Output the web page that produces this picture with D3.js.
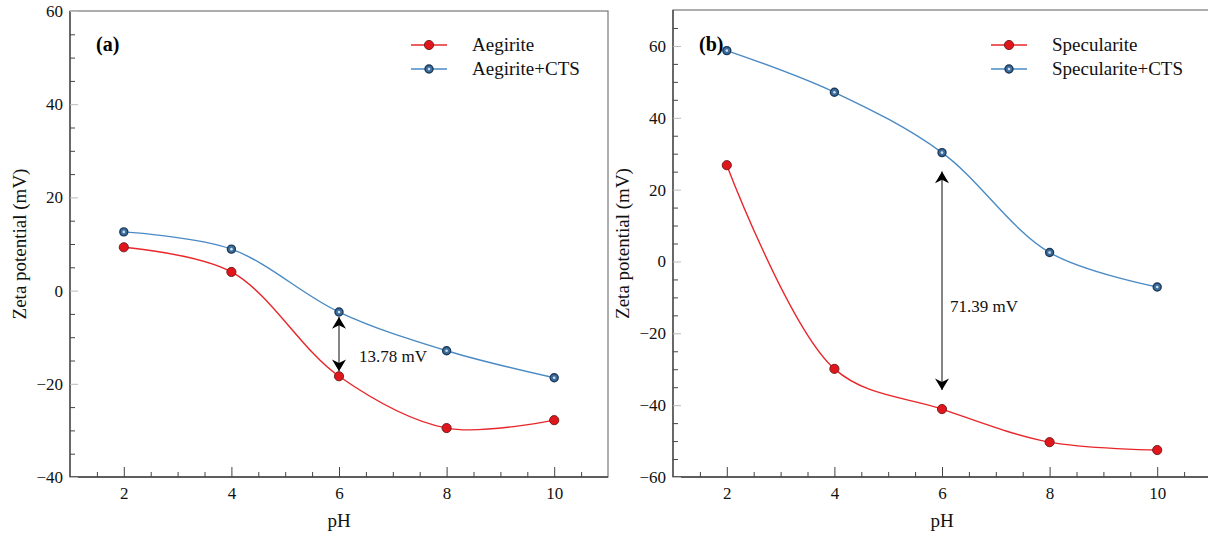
<!DOCTYPE html>
<html><head><meta charset="utf-8">
<script src="https://cdn.jsdelivr.net/npm/d3@7"></script>
<style>body{margin:0;background:#fff}svg text{font-family:"Liberation Serif","Times New Roman",serif}</style>
</head><body><svg id="c" width="1208" height="537"></svg>
<script>
const pH = [2, 4, 6, 8, 10];
const aegirite = [9.3, 4.0, -18.38, -29.5, -27.8];
const aegiriteCTS = [12.6, 8.9, -4.6, -12.9, -18.7];
const specularite = [26.8, -29.9, -41.09, -50.3, -52.5];
const speculariteCTS = [58.7, 47.1, 30.3, 2.5, -7.1];
const xTicks = [2, 4, 6, 8, 10];
const yTicksA = [-40, -20, 0, 20, 40, 60];
const yTicksB = [-60, -40, -20, 0, 20, 40, 60];

const svg = d3.select("#c");
const RED = "#e8262a", BLUE = "#4a8ac4";
const defs = svg.append("defs");
defs.append("marker").attr("id","ah").attr("viewBox","0 0 10 12").attr("refX",10).attr("refY",6)
  .attr("markerWidth",14).attr("markerHeight",14).attr("markerUnits","userSpaceOnUse").attr("orient","auto-start-reverse")
  .append("path").attr("d","M0,0 L10,6 L0,12 L3,6 Z").attr("fill","#000");

function panel(o) {
  const g = svg.append("g");
  const x = d3.scaleLinear().domain([1, 11]).range([o.left, o.right]);
  const y = d3.scaleLinear().domain(o.ydom).range([o.bottom, o.top]);
  g.append("rect").attr("x", o.left).attr("y", o.top).attr("width", o.right - o.left).attr("height", o.bottom - o.top)
    .attr("fill", "none").attr("stroke", "#777").attr("stroke-width", 1.2);
  g.append("line").attr("x1",o.left).attr("x2",o.left).attr("y1",o.top).attr("y2",o.bottom).attr("stroke","#444").attr("stroke-width",1.3);
  g.append("line").attr("x1",o.left).attr("x2",o.right).attr("y1",o.bottom).attr("y2",o.bottom).attr("stroke","#444").attr("stroke-width",1.3);
  const xa = g.append("g").attr("transform", `translate(0,${o.bottom})`)
    .call(d3.axisBottom(x).tickValues(xTicks).tickSize(-10).tickPadding(10).tickFormat(d3.format("d")));
  xa.select(".domain").remove();
  xa.selectAll("line").attr("stroke", "#444");
  xa.selectAll("text").attr("font-size", 17).attr("fill", "#111");
  const xm = g.append("g").attr("transform", `translate(0,${o.bottom})`)
    .call(d3.axisBottom(x).tickValues(d3.range(1.5, 11, 0.5).filter(v => v % 2 !== 0)).tickSize(-5).tickFormat(""));
  xm.select(".domain").remove();
  xm.selectAll("line").attr("stroke", "#444");
  const ya = g.append("g").attr("transform", `translate(${o.left},0)`)
    .call(d3.axisLeft(y).tickValues(o.yticks).tickSize(-8).tickPadding(7).tickFormat(d => d < 0 ? "\u2212" + Math.abs(d) : d));
  ya.select(".domain").remove();
  ya.selectAll("line").attr("stroke", "#bbb");
  ya.selectAll("text").attr("font-size", 17).attr("fill", "#111");
  const ymv = d3.range(o.ydom[0] + 5, o.ydom[1], 5).filter(v => v % 20 !== 0);
  const ym = g.append("g").attr("transform", `translate(${o.left},0)`)
    .call(d3.axisLeft(y).tickValues(ymv).tickSize(-5).tickFormat(""));
  ym.select(".domain").remove();
  ym.selectAll("line").attr("stroke", "#444");
  g.append("text").attr("x", x(6)).attr("y", 527).attr("text-anchor","middle")
    .attr("font-size", 19).attr("fill","#111").text("pH");
  g.append("text").attr("transform", `translate(${o.left - 44},${(o.top + o.bottom) / 2}) rotate(-90)`)
    .attr("text-anchor","middle").attr("font-size",19).attr("fill","#111").text("Zeta potential (mV)");
  g.append("text").attr("x", o.left + 26).attr("y", 51).attr("font-size", 20).attr("font-weight","bold").attr("fill","#000").text(o.label);
  const line = d3.line().x((d, i) => x(pH[i])).y(d => y(d)).curve(d3.curveCatmullRom.alpha(0.5));
  const series = [{v: o.s1, c: RED, t: "r"}, {v: o.s2, c: BLUE, t: "b"}];
  series.forEach(s => {
    g.append("path").attr("d", line(s.v)).attr("fill","none").attr("stroke", s.c).attr("stroke-width", 1.4);
  });
  function marker(sel, cx, cy, t) {
    if (t === "r") {
      sel.append("circle").attr("cx",cx).attr("cy",cy).attr("r",4.6).attr("fill","#e0161c").attr("stroke","#6a1a1a").attr("stroke-width",0.9);
    } else {
      sel.append("circle").attr("cx",cx).attr("cy",cy).attr("r",4.0).attr("fill","#3c6d9c").attr("stroke","#1d3a5a").attr("stroke-width",1.4);
      sel.append("circle").attr("cx",cx).attr("cy",cy).attr("r",1.3).attr("fill","#cfe0f0");
    }
  }
  series.forEach(s => s.v.forEach((d, i) => marker(g, x(pH[i]), y(d), s.t)));
  const ax = x(6);
  g.append("line").attr("x1", ax).attr("x2", ax).attr("y1", y(o.s2[2]) + o.ag).attr("y2", y(o.s1[2]) - o.ag)
    .attr("stroke","#333").attr("stroke-width",1.2).attr("marker-start","url(#ah)").attr("marker-end","url(#ah)");
  g.append("text").attr("x", ax + o.tdx).attr("y", o.ty).attr("font-size", 17).attr("fill","#111").text(o.diff);
  o.names.forEach((n, i) => {
    const ly = 45 + i * 24;
    g.append("line").attr("x1", o.lx).attr("x2", o.lx + 36).attr("y1", ly).attr("y2", ly).attr("stroke", series[i].c).attr("stroke-width", 1.4);
    marker(g, o.lx + 18, ly, series[i].t);
    g.append("text").attr("x", o.lx + 61).attr("y", ly + 6).attr("font-size", 19).attr("fill","#111").text(n);
  });
}

panel({left: 70, right: 608, top: 11, bottom: 477, ydom: [-40, 60], yticks: yTicksA, s1: aegirite, s2: aegiriteCTS,
  label: "(a)", names: ["Aegirite", "Aegirite+CTS"], lx: 411, diff: "13.78 mV", tdx: 20, ty: 362, ag: 5});
panel({left: 673, right: 1211, top: 10, bottom: 477, ydom: [-60, 70], yticks: yTicksB, s1: specularite, s2: speculariteCTS,
  label: "(b)", names: ["Specularite", "Specularite+CTS"], lx: 991, diff: "71.39 mV", tdx: 8, ty: 312, ag: 19});
</script></body></html>
